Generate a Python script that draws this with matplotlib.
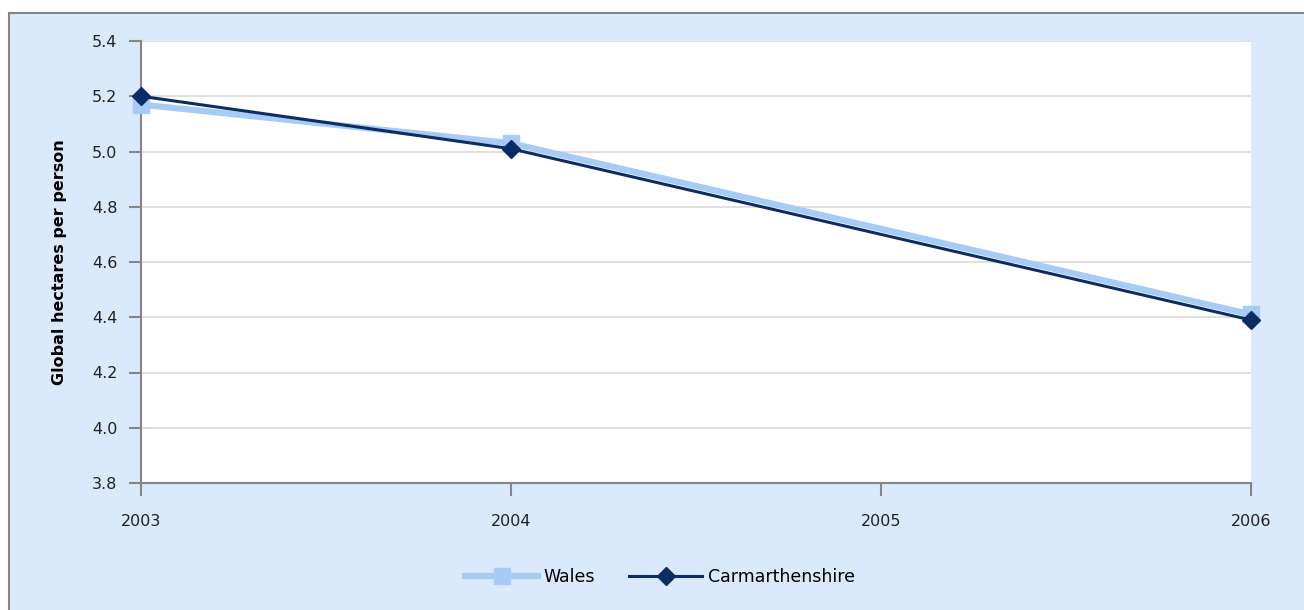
import matplotlib.pyplot as plt
from matplotlib.patches import Rectangle

years = [2003, 2004, 2006]
wales = [5.17, 5.03, 4.41]
carmarthenshire = [5.20, 5.01, 4.39]
year_ticks = [2003, 2004, 2005, 2006]
y_ticks = [3.8, 4.0, 4.2, 4.4, 4.6, 4.8, 5.0, 5.2, 5.4]

bg = '#dbe9fc'
axis_grey = '#868686'

fig = plt.figure(figsize=(13.04, 6.10), dpi=100)
fig.patch.set_facecolor('white')
# chart area with grey frame, kept behind the axes
fig.patches.append(Rectangle((9 / 1304, -0.01), 1.0, 1 - 13 / 610 + 0.01,
                             transform=fig.transFigure, facecolor=bg,
                             edgecolor=axis_grey, linewidth=1.5, zorder=-10))

ax = fig.add_axes([141 / 1304, 1 - 483 / 610, (1251 - 141) / 1304, (483 - 41) / 610])
ax.set_facecolor('white')

ax.plot(years, wales, color='#a6cbf5', linewidth=4.5, marker='s',
        markersize=11, label='Wales', zorder=3, clip_on=False)
ax.plot(years, carmarthenshire, color='#0b2d63', linewidth=2.2, marker='D',
        markersize=9, label='Carmarthenshire', zorder=4, clip_on=False)

ax.set_xlim(2003, 2006)
ax.set_ylim(3.8, 5.4)
ax.set_xticks(year_ticks)
ax.set_xticklabels([str(y) for y in year_ticks])
ax.set_yticks(y_ticks)
ax.set_yticklabels(['%.1f' % v for v in y_ticks])
ax.yaxis.grid(True, color='#d9d9d9', linewidth=1.2)
ax.set_axisbelow(True)

for side in ['top', 'right']:
    ax.spines[side].set_visible(False)
for side in ['left', 'bottom']:
    ax.spines[side].set_color(axis_grey)
    ax.spines[side].set_linewidth(1.5)
ax.tick_params(axis='both', colors=axis_grey, length=9, width=1.5,
               labelcolor='#222222', labelsize=11.5)
ax.tick_params(axis='x', pad=13)
ax.tick_params(axis='y', pad=8)

ax.set_ylabel('Global hectares per person', fontsize=11.5, fontweight='bold',
              labelpad=18)

leg = fig.legend(loc='center', bbox_to_anchor=(0.506, 1 - 577 / 610), ncol=2,
                 frameon=False, fontsize=12.5, handlelength=4.2,
                 columnspacing=2.0, handletextpad=0.3)

fig.savefig('out.png', dpi=100, facecolor=fig.get_facecolor())
